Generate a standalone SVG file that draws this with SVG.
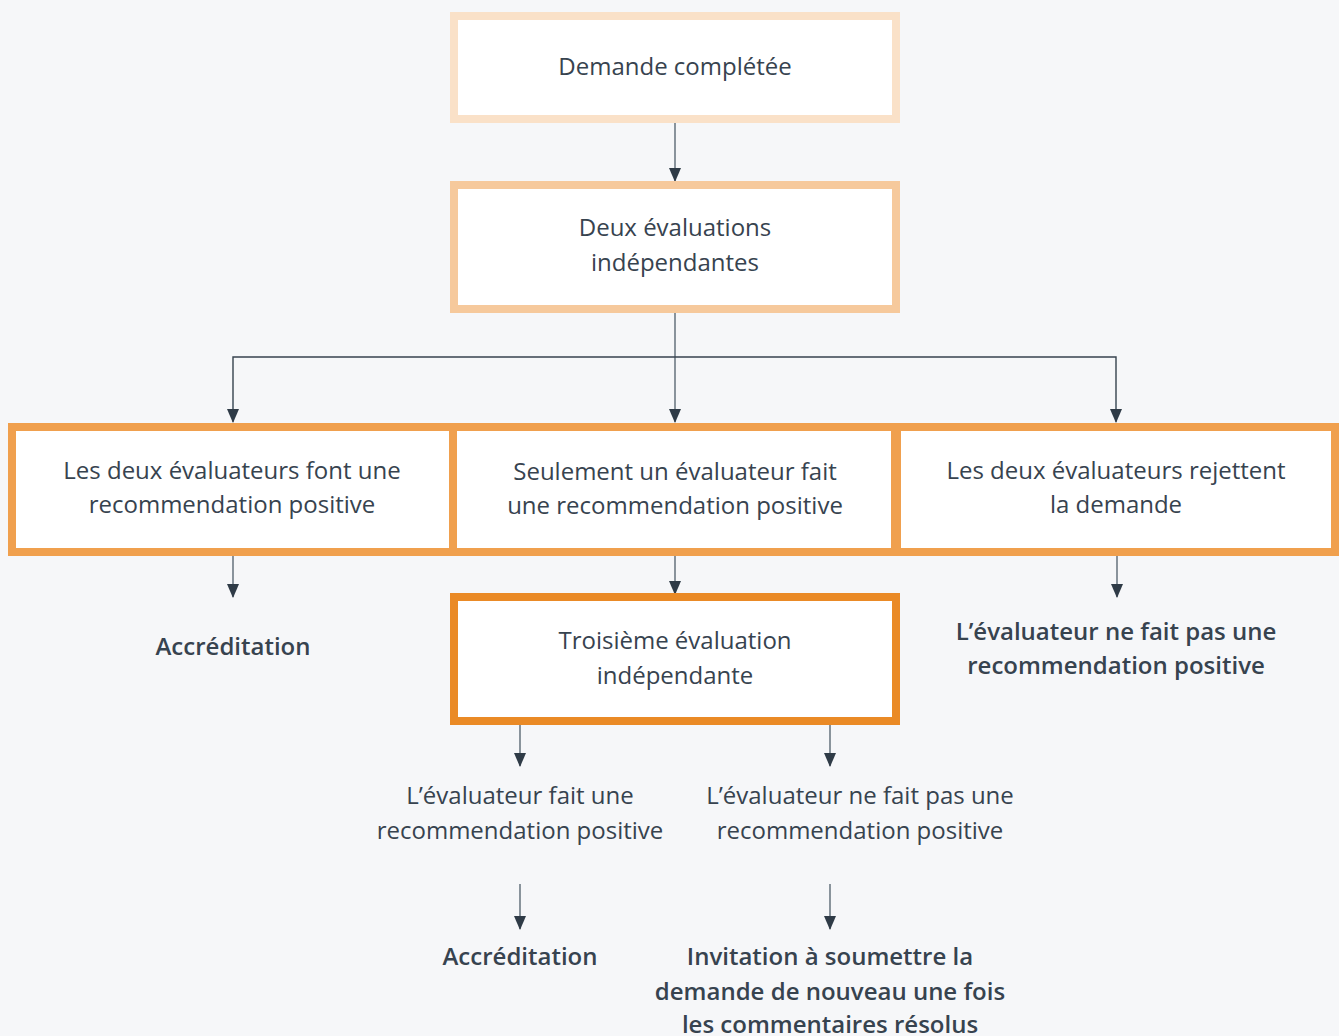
<svg xmlns="http://www.w3.org/2000/svg" width="1339" height="1036" viewBox="0 0 1339 1036">
<style>
text{font-family:"Open Sans","Liberation Sans",sans-serif;font-size:24px;fill:#37434f;text-anchor:middle}
.b{font-weight:600}
.box{fill:#fff;stroke-width:8}
.ln{stroke:#6f7a85;stroke-width:1.6;fill:none}
.hl{stroke:#37434f;stroke-width:1.4;fill:none}
</style>
<defs>
<marker id="a" markerWidth="14" markerHeight="12" refX="13" refY="6" orient="auto" markerUnits="userSpaceOnUse" viewBox="0 0 14 12">
<path d="M0 0 L14 6 L0 12 Z" fill="#2f3b47"/>
</marker>
</defs>
<rect width="1339" height="1036" fill="#f6f7f9"/>
<g id="connectors">
<line class="ln" x1="675" y1="123" x2="675" y2="181" marker-end="url(#a)"/>
<line class="ln" x1="675" y1="313" x2="675" y2="422" marker-end="url(#a)"/>
<polyline class="hl" points="233,410 233,357 1116,357 1116,410"/>
<line class="ln" x1="233" y1="400" x2="233" y2="422" marker-end="url(#a)"/>
<line class="ln" x1="1116" y1="400" x2="1116" y2="422" marker-end="url(#a)"/>
<line class="ln" x1="233" y1="556" x2="233" y2="597" marker-end="url(#a)"/>
<line class="ln" x1="675" y1="556" x2="675" y2="594" marker-end="url(#a)"/>
<line class="ln" x1="1117" y1="556" x2="1117" y2="597" marker-end="url(#a)"/>
<line class="ln" x1="520" y1="725" x2="520" y2="766" marker-end="url(#a)"/>
<line class="ln" x1="830" y1="725" x2="830" y2="766" marker-end="url(#a)"/>
<line class="ln" x1="520" y1="884" x2="520" y2="929" marker-end="url(#a)"/>
<line class="ln" x1="830" y1="884" x2="830" y2="929" marker-end="url(#a)"/>
</g>
<g id="n1">
<rect class="box" x="454" y="16" width="442" height="103" stroke="#fae1c8"/>
<text x="675" y="75">Demande complétée</text>
</g>
<g id="n2">
<rect class="box" x="454" y="185" width="442" height="124" stroke="#f6c99c"/>
<text x="675" y="236">Deux évaluations</text>
<text x="675" y="271">indépendantes</text>
</g>
<g id="n3">
<rect class="box" x="12" y="427" width="441" height="125" stroke="#f0a04e"/>
<text x="232" y="479">Les deux évaluateurs font une</text>
<text x="232" y="513">recommendation positive</text>
</g>
<g id="n4">
<rect class="box" x="453" y="427" width="442" height="125" stroke="#f0a04e"/>
<text x="675" y="480">Seulement un évaluateur fait</text>
<text x="675" y="514">une recommendation positive</text>
</g>
<g id="n5">
<rect class="box" x="897" y="427" width="438" height="125" stroke="#f0a04e"/>
<text x="1116" y="479">Les deux évaluateurs rejettent</text>
<text x="1116" y="513">la demande</text>
</g>
<g id="n6">
<text class="b" x="233" y="655">Accréditation</text>
</g>
<g id="n7">
<text class="b" x="1116" y="640">L’évaluateur ne fait pas une</text>
<text class="b" x="1116" y="674">recommendation positive</text>
</g>
<g id="n8">
<rect class="box" x="454" y="597" width="442" height="124" stroke="#ea8a26"/>
<text x="675" y="649">Troisième évaluation</text>
<text x="675" y="684">indépendante</text>
</g>
<g id="n9">
<text x="520" y="804">L’évaluateur fait une</text>
<text x="520" y="839">recommendation positive</text>
</g>
<g id="n10">
<text x="860" y="804">L’évaluateur ne fait pas une</text>
<text x="860" y="839">recommendation positive</text>
</g>
<g id="n11">
<text class="b" x="520" y="965">Accréditation</text>
</g>
<g id="n12">
<text class="b" x="830" y="965">Invitation à soumettre la</text>
<text class="b" x="830" y="1000">demande de nouveau une fois</text>
<text class="b" x="830" y="1033">les commentaires résolus</text>
</g>
</svg>
